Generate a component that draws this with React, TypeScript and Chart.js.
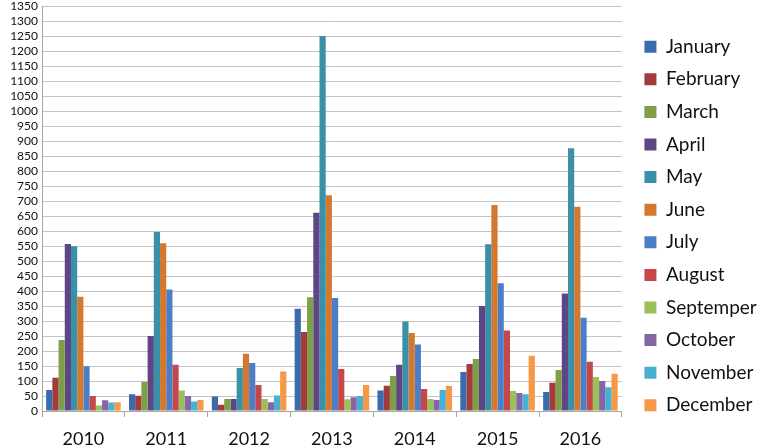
import React, { useEffect, useRef } from "react";
import { Chart, registerables } from "chart.js";

Chart.register(...registerables);

const years = ["2010", "2011", "2012", "2013", "2014", "2015", "2016"];
const months = [
  "January", "February", "March", "April", "May", "June",
  "July", "August", "Septemper", "October", "November", "December",
];
const january = [70, 56, 48, 341, 68, 130, 63];
const february = [111, 51, 21, 263, 84, 157, 94];
const march = [237, 97, 40, 379, 117, 173, 137];
const april = [557, 250, 40, 661, 154, 350, 392];
const may = [549, 597, 143, 1250, 298, 556, 876];
const june = [381, 559, 191, 719, 260, 687, 681];
const july = [149, 405, 160, 377, 222, 426, 311];
const august = [50, 154, 87, 140, 73, 268, 164];
const september = [18, 68, 40, 39, 40, 67, 113];
const october = [36, 50, 29, 46, 37, 60, 100];
const november = [28, 32, 52, 50, 70, 56, 79];
const december = [29, 37, 132, 87, 83, 184, 124];
const seriesValues = [
  january, february, march, april, may, june,
  july, august, september, october, november, december,
];
const colors = [
  "#3B6BAA", "#A33B3B", "#7E9F47", "#5E4585", "#3A90A8", "#D5782F",
  "#4A7FC8", "#C6474A", "#9BC05A", "#8466A8", "#46B2D0", "#F69845",
];
const yMin = 0;
const yMax = 1350;
const yStep = 50;

export default function App() {
  const ref = useRef<HTMLCanvasElement | null>(null);
  useEffect(() => {
    if (!ref.current) return;
    const chart = new Chart(ref.current, {
      type: "bar",
      data: {
        labels: years,
        datasets: months.map((m, i) => ({
          label: m,
          data: seriesValues[i],
          backgroundColor: colors[i],
          borderWidth: 0,
          categoryPercentage: 0.9,
          barPercentage: 1.0,
        })),
      },
      options: {
        responsive: false,
        animation: false,
        layout: { padding: { left: 0, right: 0, top: 6, bottom: 0 } },
        plugins: {
          tooltip: { enabled: false },
          legend: {
            position: "right",
            align: "center",
            labels: {
              boxWidth: 12,
              boxHeight: 12,
              padding: 13.6,
              color: "#111",
              font: { family: "Lato", size: 19 },
            },
          },
        },
        scales: {
          x: {
            grid: {
              display: true,
              offset: true,
              drawOnChartArea: false,
              drawTicks: true,
              tickLength: 6,
              color: "#A6A6A6",
            },
            border: { display: true, color: "#A6A6A6" },
            ticks: {
              color: "#111",
              font: { family: "Lato", size: 18 },
              padding: 11,
            },
            afterFit: (s: any) => {
              s.height = 35;
              s.paddingLeft = 0;
              s.paddingRight = 0;
            },
          },
          y: {
            min: yMin,
            max: yMax,
            grid: { color: "#C4C4C4", drawTicks: false },
            border: { display: true, color: "#A6A6A6" },
            ticks: {
              stepSize: yStep,
              autoSkip: false,
              color: "#111",
              font: { family: "Lato", size: 12 },
              padding: 4,
              callback: (v: any) => String(v),
            },
            afterFit: (s: any) => {
              s.width = 42;
              s.paddingTop = 0;
              s.paddingBottom = 0;
            },
          },
          gap: {
            type: "linear",
            position: "right",
            display: true,
            grid: { display: false },
            border: { display: false },
            ticks: { display: false },
            afterFit: (s: any) => {
              s.width = 9;
              s.paddingTop = 0;
              s.paddingBottom = 0;
            },
          },
        },
      },
    });
    return () => chart.destroy();
  }, []);
  return (
    <div style={{ position: "fixed", left: 0, top: 0, width: 757, height: 446, background: "#fff" }}>
      <canvas ref={ref} width={757} height={446} />
    </div>
  );
}
